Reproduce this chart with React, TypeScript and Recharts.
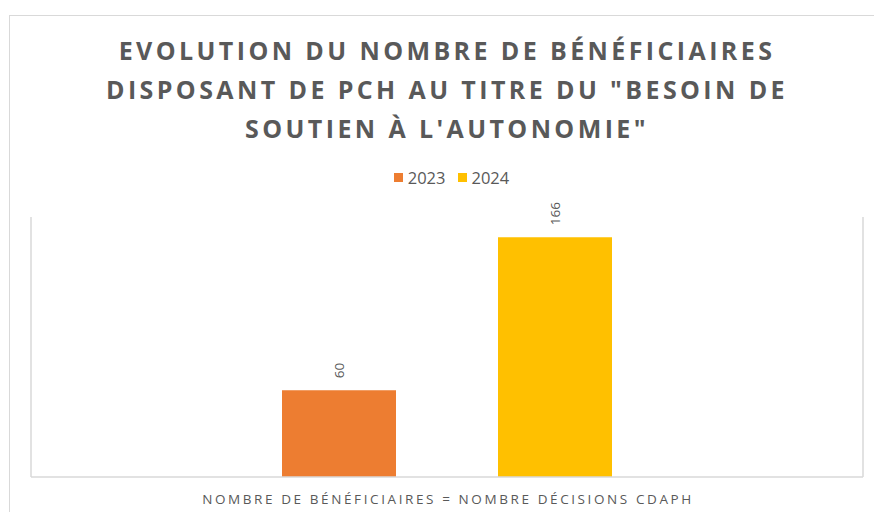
import React from "react";
import { BarChart, Bar, XAxis, YAxis, Legend, LabelList } from "recharts";

const TITLE_LINES = [
  "EVOLUTION DU NOMBRE DE BÉNÉFICIAIRES",
  "DISPOSANT DE PCH AU TITRE DU \"BESOIN DE",
  "SOUTIEN À L'AUTONOMIE\"",
];
const CATEGORIES = ["NOMBRE DE BÉNÉFICIAIRES = NOMBRE DÉCISIONS CDAPH"];
const SERIES = ["2023", "2024"];
const VALUES_2023 = [60];
const VALUES_2024 = [166];
const COLORS: Record<string, string> = { "2023": "#ED7D31", "2024": "#FFC000" };

const TEXT = "#595959";
const LINE = "#D9D9D9";
const FONT = "'Open Sans', sans-serif";

const data = CATEGORIES.map((c, i) => ({
  name: c,
  "2023": VALUES_2023[i],
  "2024": VALUES_2024[i],
}));

function RotatedLabel(props: any) {
  const { x, y, width, value } = props;
  const cx = x + width / 2;
  const ty = y - 12;
  return (
    <text
      x={cx}
      y={ty}
      transform={`rotate(-90, ${cx}, ${ty})`}
      textAnchor="start"
      dominantBaseline="central"
      fill={TEXT}
      fontSize={13.5}
      fontFamily={FONT}
    >
      {value}
    </text>
  );
}

function CategoryTick(props: any) {
  const { x, y, payload } = props;
  return (
    <text
      x={x + 1}
      y={y + 19}
      textAnchor="middle"
      fill={TEXT}
      fontSize={13.5}
      fontFamily={FONT}
      letterSpacing={2.6}
    >
      {payload.value}
    </text>
  );
}

function LegendBox() {
  return (
    <div style={{ display: "flex", justifyContent: "center", height: 20, alignItems: "center", paddingLeft: 9, fontFamily: FONT, fontSize: 16.5, color: TEXT }}>
      {SERIES.map((s) => (
        <span key={s} style={{ display: "inline-flex", alignItems: "center", margin: "0 6px" }}>
          <span style={{ width: 9, height: 9, background: COLORS[s], marginRight: 5, display: "inline-block" }} />
          {s}
        </span>
      ))}
    </div>
  );
}

export default function App() {
  return (
    <div style={{ position: "absolute", left: 0, top: 0, width: 874, height: 512, overflow: "hidden", background: "#fff" }}>
      <div style={{ position: "absolute", left: 9, top: 15, width: 900, height: 520, border: `1px solid ${LINE}`, boxSizing: "border-box" }} />
      <div
        style={{
          position: "absolute",
          left: 9,
          width: 876,
          top: 31,
          textAlign: "center",
          fontFamily: FONT,
          fontWeight: 700,
          fontSize: 25,
          lineHeight: "39px",
          letterSpacing: 3.4,
          color: TEXT,
        }}
      >
        {TITLE_LINES.map((l) => (
          <div key={l}>{l}</div>
        ))}
      </div>
      <div style={{ position: "absolute", left: 0, top: 0 }}>
        <BarChart
          width={874}
          height={512}
          data={data}
          margin={{ top: 197, right: 10, left: 30, bottom: 0 }}
          barSize={114}
          barGap={102}
        >
          <XAxis
            dataKey="name"
            axisLine={{ stroke: LINE, strokeWidth: 1.5 }}
            tickLine={false}
            tick={<CategoryTick />}
            height={35}
            interval={0}
          />
          <YAxis
            yAxisId="left"
            domain={[0, 180]}
            width={1}
            tick={false}
            tickLine={false}
            axisLine={{ stroke: LINE, strokeWidth: 1.5 }}
          />
          <YAxis
            yAxisId="right"
            orientation="right"
            domain={[0, 180]}
            width={1}
            tick={false}
            tickLine={false}
            axisLine={{ stroke: LINE, strokeWidth: 1.5 }}
          />
          <Legend verticalAlign="top" content={<LegendBox />} wrapperStyle={{ top: 167 }} />
          {SERIES.map((s) => (
            <Bar key={s} dataKey={s} yAxisId="left" fill={COLORS[s]} isAnimationActive={false}>
              <LabelList dataKey={s} content={<RotatedLabel />} />
            </Bar>
          ))}
        </BarChart>
      </div>
    </div>
  );
}
